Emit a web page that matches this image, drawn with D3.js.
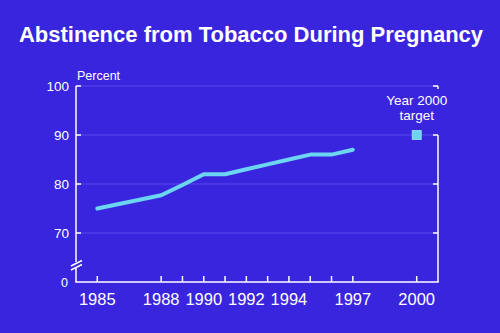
<!DOCTYPE html>
<html><head><meta charset="utf-8">
<script src="https://cdn.jsdelivr.net/npm/d3@7"></script>
<style>html,body{margin:0;padding:0;background:#3a25de;}svg{display:block;}</style>
</head><body>
<script>
const years = [1985, 1988, 1989, 1990, 1991, 1992, 1993, 1994, 1995, 1996, 1997];
const values = [75, 77.7, 79.8, 82, 82, 83, 84, 85, 86, 86, 87];
const targetYear = [2000];
const targetValue = [90];
const tickYears = [1985, 1988, 1989, 1990, 1991, 1992, 1993, 1994, 1995, 1996, 1997, 2000];
const labelYears = [1985, 1988, 1990, 1992, 1994, 1997, 2000];
const yTicks = [70, 80, 90, 100];

const W = 500, H = 333;
const bg = "#3a25de", grid = "#5848f0", fg = "#ffffff", lineC = "#6cd6f2";
const svg = d3.select("body").append("svg").attr("width", W).attr("height", H);
svg.append("rect").attr("width", W).attr("height", H).attr("fill", bg);

const x = d3.scaleLinear().domain([1984, 2001]).range([76, 438]);
const y = d3.scaleLinear().domain([60, 100]).range([282, 86]);
const font = "'Liberation Sans', Arial, Helvetica, sans-serif";

svg.append("text").attr("x", 251).attr("y", 42).attr("text-anchor", "middle")
  .attr("font-family", font).attr("font-weight", "bold").attr("font-size", 22)
  .attr("fill", fg).text("Abstinence from Tobacco During Pregnancy");

// gridlines
svg.append("g").selectAll("line").data(yTicks).join("line")
  .attr("x1", x(1984)).attr("x2", x(2001)).attr("y1", d => y(d)).attr("y2", d => y(d))
  .attr("stroke", grid).attr("stroke-width", 1);

// left axis with break
const ax = svg.append("g").attr("stroke", fg).attr("stroke-width", 1.5).attr("fill", "none");
ax.append("line").attr("x1", x(1984)).attr("x2", x(1984)).attr("y1", y(100)).attr("y2", 262);
ax.append("line").attr("x1", x(1984)).attr("x2", x(1984)).attr("y1", 268).attr("y2", y(60));
ax.append("line").attr("x1", 71).attr("y1", 266).attr("x2", 82).attr("y2", 260.5);
ax.append("line").attr("x1", 71).attr("y1", 270).attr("x2", 82).attr("y2", 264.5);
// left ticks inward
ax.selectAll(".lt").data(yTicks).join("line")
  .attr("x1", x(1984)).attr("x2", x(1984) + 5).attr("y1", d => y(d)).attr("y2", d => y(d));
// right axis (broken for target label)
ax.append("line").attr("x1", x(2001)).attr("x2", x(2001)).attr("y1", y(100)).attr("y2", y(100) + 3);
ax.append("line").attr("x1", x(2001)).attr("x2", x(2001)).attr("y1", y(90)).attr("y2", y(60));
ax.selectAll(".rt").data(yTicks).join("line")
  .attr("x1", x(2001)).attr("x2", x(2001) - 5).attr("y1", d => y(d)).attr("y2", d => y(d));
// bottom axis
ax.append("line").attr("x1", x(1984) - 0.75).attr("x2", x(2001) + 0.75).attr("y1", y(60)).attr("y2", y(60));
ax.selectAll(".bt").data(tickYears).join("line")
  .attr("x1", d => x(d)).attr("x2", d => x(d)).attr("y1", y(60)).attr("y2", y(60) - 6);

// y labels
svg.append("g").selectAll("text").data(yTicks).join("text")
  .attr("x", 69).attr("y", d => y(d) + 5).attr("text-anchor", "end")
  .attr("font-family", font).attr("font-size", 13.5).attr("fill", fg).text(d => d);
svg.append("text").attr("x", 68).attr("y", 287).attr("text-anchor", "end")
  .attr("font-family", font).attr("font-size", 12.5).attr("fill", fg).text("0");
svg.append("text").attr("x", 77).attr("y", 80)
  .attr("font-family", font).attr("font-size", 12.5).attr("fill", fg).text("Percent");

// x labels
svg.append("g").selectAll("text").data(labelYears).join("text")
  .attr("x", d => x(d)).attr("y", 305).attr("text-anchor", "middle")
  .attr("font-family", font).attr("font-size", 16.5).attr("fill", fg).text(d => d);

// series line
svg.append("path").datum(years.map((d, i) => [d, values[i]]))
  .attr("d", d3.line().x(d => x(d[0])).y(d => y(d[1])))
  .attr("fill", "none").attr("stroke", lineC).attr("stroke-width", 4)
  .attr("stroke-linecap", "round").attr("stroke-linejoin", "round");

// target
svg.append("g").selectAll("rect").data(targetYear).join("rect")
  .attr("x", d => x(d) - 4.5).attr("y", (d, i) => y(targetValue[i]) - 4.5)
  .attr("width", 9).attr("height", 9).attr("fill", lineC)
  .attr("stroke", "#9ae8ff").attr("stroke-width", 0.8);
const tl = svg.append("text").attr("text-anchor", "middle")
  .attr("font-family", font).attr("font-size", 13.5).attr("fill", fg);
tl.append("tspan").attr("x", x(2000)).attr("y", 105).text("Year 2000");
tl.append("tspan").attr("x", x(2000)).attr("y", 120).text("target");
</script>
</body></html>
